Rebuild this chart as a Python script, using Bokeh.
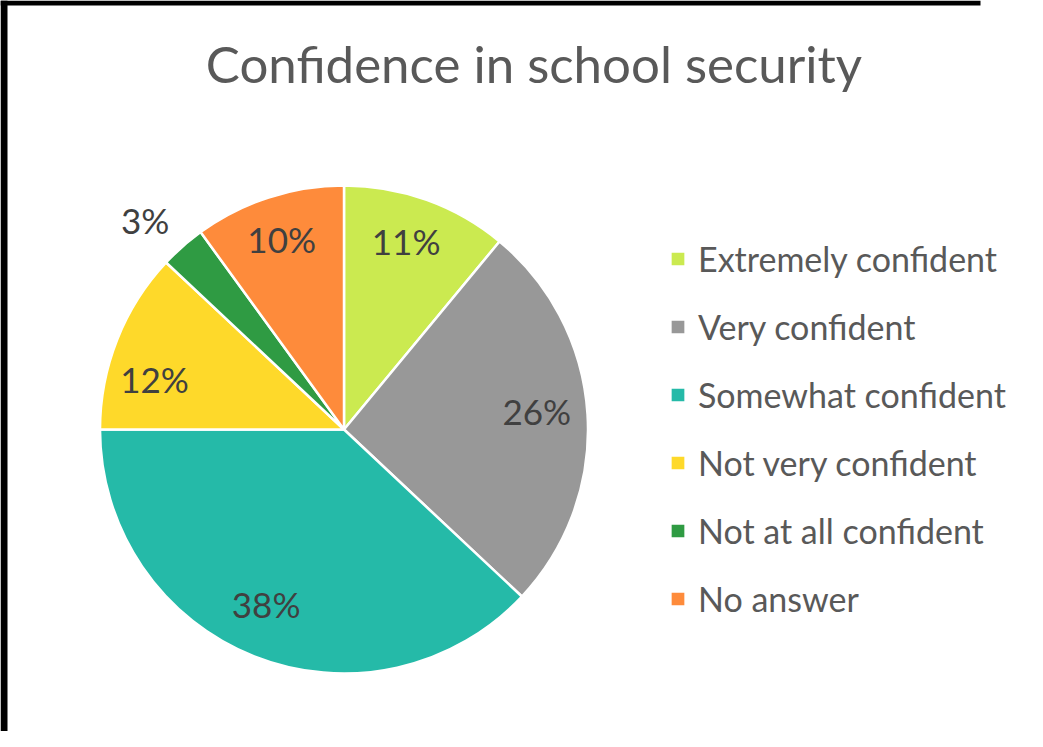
import math
from bokeh.plotting import figure
from bokeh.models import Range1d, Legend, LegendItem, Label, ColumnDataSource, BoxAnnotation
from bokeh.core.properties import value
from bokeh.embed import file_html
from bokeh.resources import INLINE

title_text = "Confidence in school security"
categories = ["Extremely confident", "Very confident", "Somewhat confident",
              "Not very confident", "Not at all confident", "No answer"]
shares = [11, 26, 38, 12, 3, 10]
colors = ["#CBEA50", "#989898", "#25BAA8", "#FED92A", "#2F9B43", "#FE8B3B"]

# layout-only nudges of the data labels (screen px, + = right / down)
label_dx = [-4, -2, -6, -8, -10, -2]
label_dy = [-5, -6, -7, 21, 5, -5]

W, H = 1027, 731
FONT = "Lato"

p = figure(width=W, height=H, x_range=Range1d(0, W), y_range=Range1d(0, H),
           output_backend="svg", toolbar_location=None,
           x_axis_type=None, y_axis_type=None,
           min_border=0, min_border_left=0, min_border_right=0,
           min_border_top=0, min_border_bottom=0)
p.outline_line_color = None
p.background_fill_color = "white"
p.border_fill_color = "white"

# dark frame at the left and top edges of the picture
p.add_layout(BoxAnnotation(left=0, right=7, bottom=0, top=H, fill_color="black", fill_alpha=1,
                           line_alpha=0))
p.add_layout(BoxAnnotation(left=0, right=980, bottom=H - 5, top=H, fill_color="black",
                           fill_alpha=1, line_alpha=0))

cx, cy, R = 343.5, H - 429, 244

total = float(sum(shares))
starts, ends, mids = [], [], []
cum = 0.0
for s in shares:
    a0 = math.pi / 2 - 2 * math.pi * cum / total
    cum += s
    a1 = math.pi / 2 - 2 * math.pi * cum / total
    starts.append(a1)
    ends.append(a0)
    mids.append((a0 + a1) / 2)

src = ColumnDataSource(dict(cat=categories, share=shares, color=colors,
                            start=starts, end=ends))
wedges = p.wedge(x=cx, y=cy, radius=R, start_angle="start", end_angle="end",
                 fill_color="color", line_color="white", line_width=2.5,
                 source=src)

lx, ly, lt = [], [], []
for s, m in zip(shares, mids):
    rr = R * (1.17 if s / total < 0.05 else 0.80)
    lx.append(cx + rr * math.cos(m))
    ly.append(cy + rr * math.sin(m))
    lt.append(f"{s}%")
lab_src = ColumnDataSource(dict(x=lx, y=ly, text=lt, dx=label_dx, dy=label_dy))
p.text(x="x", y="y", text="text", x_offset="dx", y_offset="dy", source=lab_src,
       text_font=value(FONT), text_font_size="35px",
       text_color="#404040", text_align="center", text_baseline="middle")

p.add_layout(Label(x=533.5, y=668, text=title_text, text_font=FONT,
                   text_font_size="51px", text_color="#595959",
                   text_align="center", text_baseline="alphabetic"))

items = [LegendItem(label=c, renderers=[wedges], index=i) for i, c in enumerate(categories)]
legend = Legend(items=items, location=(668, 112), orientation="vertical",
                glyph_width=19, glyph_height=19, label_standoff=11,
                spacing=27, padding=0, margin=0,
                label_text_font=FONT, label_text_font_size="34px",
                label_text_color="#595959",
                border_line_alpha=0, background_fill_alpha=0)
p.add_layout(legend, "center")

open("out.html", "w").write(file_html(p, INLINE))
